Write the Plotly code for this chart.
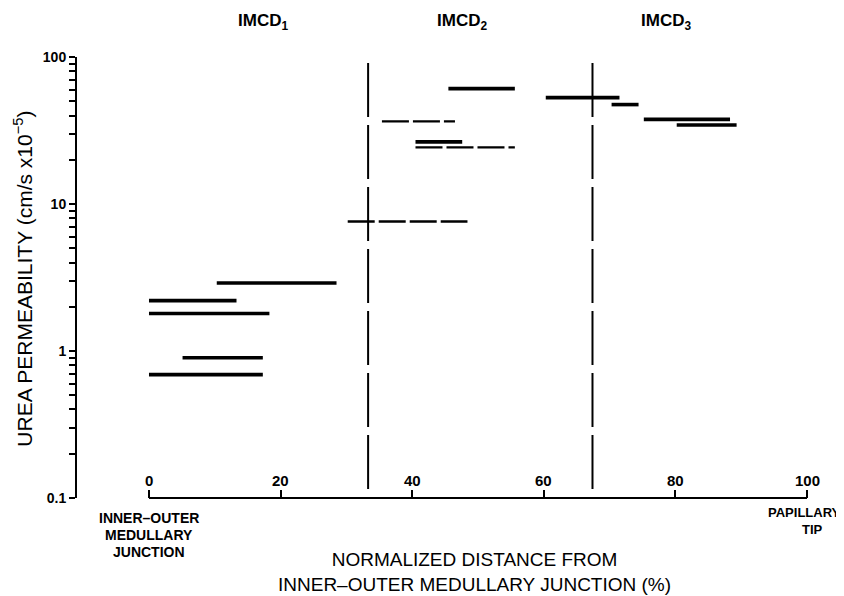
import plotly.graph_objects as go

# ---- data ----
seg_x_start = [10.3, 0.0, 0.0, 5.1, 0.0,
               30.2, 35.4, 40.5, 40.5, 45.5,
               60.3, 70.3, 75.2, 80.2]
seg_x_end = [28.5, 13.3, 18.3, 17.3, 17.3,
             48.4, 46.5, 47.6, 55.6, 55.6,
             71.5, 74.4, 88.3, 89.3]
seg_value = [2.9, 2.2, 1.8, 0.9, 0.69,
             7.6, 36.5, 26.5, 24.3, 61.0,
             53.0, 47.5, 37.7, 34.5]
seg_style = ["solid", "solid", "solid", "solid", "solid",
             "dashed", "dashed", "solid", "dashed", "solid",
             "solid", "solid", "solid", "solid"]

boundaries = [33.3, 67.4]
boundary_y = [0.115, 100]

segment_names = ["IMCD<sub>1</sub>", "IMCD<sub>2</sub>", "IMCD<sub>3</sub>"]
segment_label_x = [17.3, 47.6, 78.6]

x_tickvals = [0, 20, 40, 60, 80, 100]
y_tickvals = [0.1, 1, 10, 100]
y_ticktext = ["0.1", "1", "10", "100"]
y_minor = [m * d for d in (0.1, 1, 10) for m in range(2, 10)]

left_label = ["INNER–OUTER", "MEDULLARY", "JUNCTION"]
right_label = ["PAPILLARY", "TIP"]

BFONT = "Liberation Sans, Arial, sans-serif"

fig = go.Figure()

for xs, xe, v, st in zip(seg_x_start, seg_x_end, seg_value, seg_style):
    if st == "solid":
        line = dict(color="black", width=3.6)
    else:
        line = dict(color="black", width=2.4, dash="27px,4px")
    fig.add_trace(go.Scatter(x=[xs, xe], y=[v, v], mode="lines", line=line,
                             hoverinfo="skip", showlegend=False))

for b in boundaries:
    fig.add_trace(go.Scatter(x=[b, b], y=boundary_y, mode="lines",
                             line=dict(color="black", width=2, dash="54px,8px"),
                             hoverinfo="skip", showlegend=False))

# x axis line only from 0 to 100
fig.add_shape(type="line", xref="x", yref="paper", x0=0, x1=100, y0=0, y1=0,
              line=dict(color="black", width=2))

# x tick labels sit above the axis line
for v in x_tickvals:
    fig.add_annotation(x=v, y=0.039, xref="x", yref="paper", text=f"<b>{v}</b>",
                       showarrow=False, font=dict(family=BFONT, size=15, color="black"),
                       xanchor="center", yanchor="middle")

for name, xv in zip(segment_names, segment_label_x):
    fig.add_annotation(x=xv, y=1.079, xref="x", yref="paper", text=f"<b>{name}</b>",
                       showarrow=False, font=dict(family=BFONT, size=17, color="black"),
                       xanchor="center", yanchor="middle")

for i, t in enumerate(left_label):
    fig.add_annotation(x=0, y=-0.045 - 0.0385 * i, xref="x", yref="paper",
                       text=f"<b>{t}</b>", showarrow=False,
                       font=dict(family=BFONT, size=14, color="black"),
                       xanchor="center", yanchor="middle")
fig.add_annotation(x=1.0132, y=-0.034, xref="paper", yref="paper",
                   text=f"<b>{right_label[0]}</b>", showarrow=False,
                   font=dict(family=BFONT, size=13, color="black"),
                   xanchor="right", yanchor="middle")
fig.add_annotation(x=100.8, y=-0.0725, xref="x", yref="paper",
                   text=f"<b>{right_label[1]}</b>", showarrow=False,
                   font=dict(family=BFONT, size=13, color="black"),
                   xanchor="center", yanchor="middle")

fig.add_annotation(x=49.5, y=-0.1667, xref="x", yref="paper",
                   text="NORMALIZED DISTANCE FROM<br>INNER–OUTER MEDULLARY JUNCTION (%)",
                   showarrow=False, font=dict(family=BFONT, size=19, color="black"),
                   xanchor="center", yanchor="middle", align="center")

fig.add_annotation(x=-0.071, y=0.498, xref="paper", yref="paper",
                   text="UREA PERMEABILITY (cm/s x10<sup>−5</sup>)",
                   textangle=-90, showarrow=False,
                   font=dict(family=BFONT, size=21, color="black"),
                   xanchor="center", yanchor="middle")

all_y_ticks = y_tickvals + y_minor
all_y_text = [f"<b>{t}</b>" for t in y_ticktext] + [""] * len(y_minor)

# page body has an 8px margin: figure is 836x588 placed at (8, 8)
fig.update_layout(
    width=836, height=588,
    margin=dict(l=69, r=11, t=49, b=98),
    paper_bgcolor="white", plot_bgcolor="white",
    showlegend=False,
    xaxis=dict(range=[-10.94, 103.95], tickvals=x_tickvals, showticklabels=False,
               ticks="inside", ticklen=8, tickwidth=2, tickcolor="black",
               showline=False, showgrid=False, zeroline=False),
    yaxis=dict(type="log", range=[-1.0005, 2.0005], tickvals=all_y_ticks,
               ticktext=all_y_text,
               ticks="outside", ticklen=6, tickwidth=1.8, tickcolor="black",
               showline=True, linewidth=2, linecolor="black",
               showgrid=False, zeroline=False,
               tickfont=dict(family=BFONT, size=14, color="black")),
)

fig.write_html("out.html")
